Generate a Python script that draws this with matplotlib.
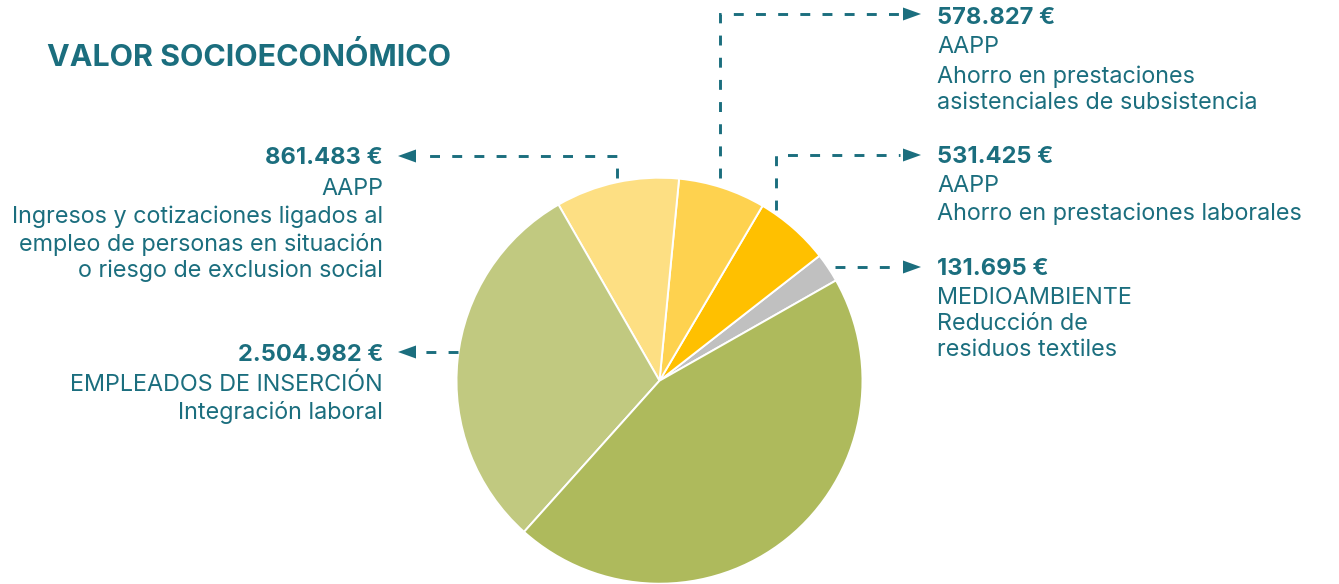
import matplotlib
matplotlib.use("Agg")
import matplotlib.pyplot as plt
from matplotlib.patches import Polygon

# ---------------- data ----------------
slice_names = ["Medioambiente", "Ahorro prestaciones laborales",
               "Ahorro prestaciones asistenciales", "Ingresos y cotizaciones",
               "Integración laboral", "Otros"]
slice_shares = [2.33, 5.97, 6.94, 9.83, 30.08, 44.85]
slice_colors = ["#C0C0C0", "#FFC000", "#FED24F", "#FDDF83", "#C1C980", "#AEBA5C"]

title = "VALOR SOCIOECONÓMICO"
amounts = ["131.695 €", "531.425 €", "578.827 €", "861.483 €", "2.504.982 €"]
captions = [
    ["MEDIOAMBIENTE", "Reducción de", "residuos textiles"],
    ["AAPP", "Ahorro en prestaciones laborales"],
    ["AAPP", "Ahorro en prestaciones", "asistenciales de subsistencia"],
    ["AAPP", "Ingresos y cotizaciones ligados al",
     "empleo de personas en situación", "o riesgo de exclusion social"],
    ["EMPLEADOS DE INSERCIÓN", "Integración laboral"],
]

# ---------------- layout ----------------
W, H = 1339, 584
TEAL = "#1B6E7E"
FAMILY = ["Inter", "DejaVu Sans"]

fig = plt.figure(figsize=(W / 100, H / 100), dpi=100)
ax = fig.add_axes([0, 0, 1, 1])


def Y(y):
    return H - y


def fit_size(text, target_px, weight):
    t = fig.text(0, 0, text, fontsize=10, fontweight=weight, family=FAMILY)
    r = fig.canvas.get_renderer()
    w = t.get_window_extent(r).width
    t.remove()
    return 10 * target_px / w


fs_reg = min(fit_size("Ahorro en prestaciones laborales", 388, "normal"),
             fit_size("Ingresos y cotizaciones ligados al", 375, "normal"))
fs_bold = fit_size("131.695 €", 111, "bold")
fs_title = fit_size(title, 405, "bold")

ax.pie(slice_shares, colors=slice_colors, startangle=29.6, counterclock=True,
       center=(659.5, Y(380.7)), radius=203,
       wedgeprops=dict(edgecolor="white", linewidth=1.4))
ax.set_xlim(0, W)
ax.set_ylim(0, H)
ax.set_aspect("auto")
ax.axis("off")

ax.text(47, Y(57), title, fontsize=fs_title, fontweight="bold", color=TEAL,
        family=FAMILY, ha="left", va="center")

# label blocks: (index, x, y of amount, line ys, ha)
blocks = [
    (0, 937, 269, [298, 324, 350], "left"),
    (1, 937, 157, [186, 214], "left"),
    (2, 937, 18, [47, 77, 103], "left"),
    (3, 383, 158, [189, 217, 244, 271], "right"),
    (4, 383, 355, [385, 412], "right"),
]
for i, x, ya, ys, ha in blocks:
    ax.text(x, Y(ya), amounts[i], fontsize=fs_bold, fontweight="bold",
            color=TEAL, family=FAMILY, ha=ha, va="center")
    for line, yl in zip(captions[i], ys):
        ax.text(x, Y(yl), line, fontsize=fs_reg, color=TEAL, family=FAMILY,
                ha=ha, va="center")

# connectors
LW = 2.1
DASH = (0, (3.4, 4.2))


def dashed(xs, ys):
    ax.plot(xs, [Y(v) for v in ys], color=TEAL, lw=LW, linestyle=DASH,
            dash_capstyle="butt", dash_joinstyle="miter")


def head(xt, y, direction):
    L, h = 18, 6.5
    xb = xt - L * direction
    ax.add_patch(Polygon([(xt, Y(y)), (xb, Y(y) + h), (xb, Y(y) - h)],
                         closed=True, color=TEAL, lw=0))


# 578.827
dashed([720, 720, 900], [178, 14, 14])
head(921, 14, 1)
# 531.425
dashed([776, 776, 900], [210, 155, 155])
head(921, 155, 1)
# 131.695
dashed([835, 900], [267, 267])
head(921, 267, 1)
# 861.483
dashed([617, 617, 418], [178, 156, 156])
head(398, 156, -1)
# 2.504.982
dashed([458, 418], [352, 352])
head(398, 352, -1)

fig.savefig("out.png", dpi=100, facecolor="white")
